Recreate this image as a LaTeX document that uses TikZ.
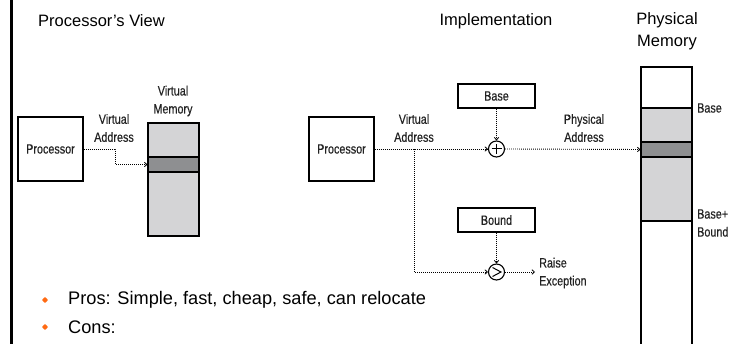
\documentclass[tikz,border=0pt]{standalone}
\usepackage{fontspec}
\setmainfont{Liberation Sans}
\newfontfamily\condf[FakeStretch=0.8,FakeBold=0.4]{Liberation Sans}
\usetikzlibrary{arrows.meta,shapes.geometric}
\definecolor{lgray}{HTML}{D4D4D6}
\definecolor{dgray}{HTML}{8E8F91}
\definecolor{bulletc}{HTML}{FF6A13}
\definecolor{ltext}{HTML}{222222}
\tikzset{
  box/.style={draw=black,line width=1.1pt,fill=white,inner sep=0pt},
  lbl/.style={font=\condf\fontsize{13.5}{18}\selectfont,text=ltext,align=center,inner sep=0pt},
  ttl/.style={font=\fontsize{16.5}{22}\selectfont,align=center,inner sep=0pt},
  blt/.style={font=\fontsize{18.2}{22}\selectfont,anchor=west,inner sep=0pt},
  conn/.style={line width=0.9pt,dash pattern=on 0.9pt off 1.1pt,-{Straight Barb[length=2.5pt,width=4.5pt,line width=0.8pt]}},
  opc/.style={circle,draw=black,line width=1.1pt,minimum size=16pt,inner sep=0pt,fill=white},
  bdot/.style={diamond,fill=bulletc,minimum size=6.5pt,inner sep=0pt,rounded corners=0.8pt}
}
\begin{document}
\begin{tikzpicture}[x=1pt,y=-1pt]
\useasboundingbox (0,0) rectangle (734,344);
% left bar
\fill[black] (10,0) rectangle (12.5,344);
% titles
\node[ttl,anchor=west] (t1) at (38,21) {Processor’s View};
\node[ttl] (t2) at (496,21) {Implementation};
\node[ttl] (t3) at (667,31) {Physical\\Memory};
% left side
\node[box,minimum width=65pt,minimum height=64pt,lbl] (p1) at (50.5,149) {Processor};
\node[box,fill=lgray,minimum width=51pt,minimum height=113pt] (vm) at (173.5,179.5) {};
\node[box,fill=dgray,minimum width=51pt,minimum height=15pt] (vb) at (173.5,164.5) {};
\node[lbl] (vml) at (173,101) {Virtual\\Memory};
\node[lbl] (val1) at (114,128) {Virtual\\Address};
\draw[conn] (p1.east) -- ++(32,0) |- (vb.west);
% implementation
\node[box,minimum width=65pt,minimum height=64pt,lbl] (p2) at (341.5,149) {Processor};
\node[lbl] (val2) at (414,128) {Virtual\\Address};
\node[box,minimum width=77pt,minimum height=24pt,lbl] (base) at (496.5,96) {Base};
\node[box,minimum width=77pt,minimum height=24pt,lbl] (bound) at (496.5,220) {Bound};
\node[opc] (plus) at (496.5,149) {};
\draw[line width=1pt] ([xshift=-5pt]plus.center) -- ([xshift=5pt]plus.center)
  ([yshift=-5pt]plus.center) -- ([yshift=5pt]plus.center);
\node[opc] (gt) at (496.5,272) {};
\draw[line width=1pt] ([xshift=-4pt,yshift=-4.5pt]gt.center) -- ([xshift=4.5pt]gt.center) -- ([xshift=-4pt,yshift=4.5pt]gt.center);
\node[lbl,align=left,anchor=west] (raise) at (539,273) {Raise\\Exception};
\coordinate (rx) at (535,272);
\coordinate (j) at (414,149);
\draw[conn] (p2.east) -- (plus.west);
\draw[conn] (base.south) -- (plus.north);
\draw[conn] (bound.south) -- (gt.north);
\draw[conn] (j) |- (gt.west);
\draw[conn] (gt.east) -- (rx);
% physical memory
\node[lbl] (pal) at (584,128) {Physical\\Address};
\draw[line width=1.1pt,fill=white] (641,345) -- (641,67) -- (692,67) -- (692,345);
\node[box,fill=lgray,minimum width=51pt,minimum height=113pt] (pg) at (666.5,164.5) {};
\node[box,fill=dgray,minimum width=51pt,minimum height=15pt] (pb) at (666.5,149.5) {};
\draw[conn] (plus.east) -- (pb.west);
\node[lbl,anchor=west] (bl) at (697,108) {Base};
\node[lbl,align=left,anchor=west] (bbl) at (697,223) {Base+\\Bound};
% bullets
\node[bdot] (b1) at (45,300) {};
\node[bdot] (b2) at (45,327) {};
\node[blt] (pros) at (68,300) {Pros: Simple, fast, cheap, safe, can relocate};
\node[blt] (cons) at (68,327) {Cons:};
\end{tikzpicture}
\end{document}
